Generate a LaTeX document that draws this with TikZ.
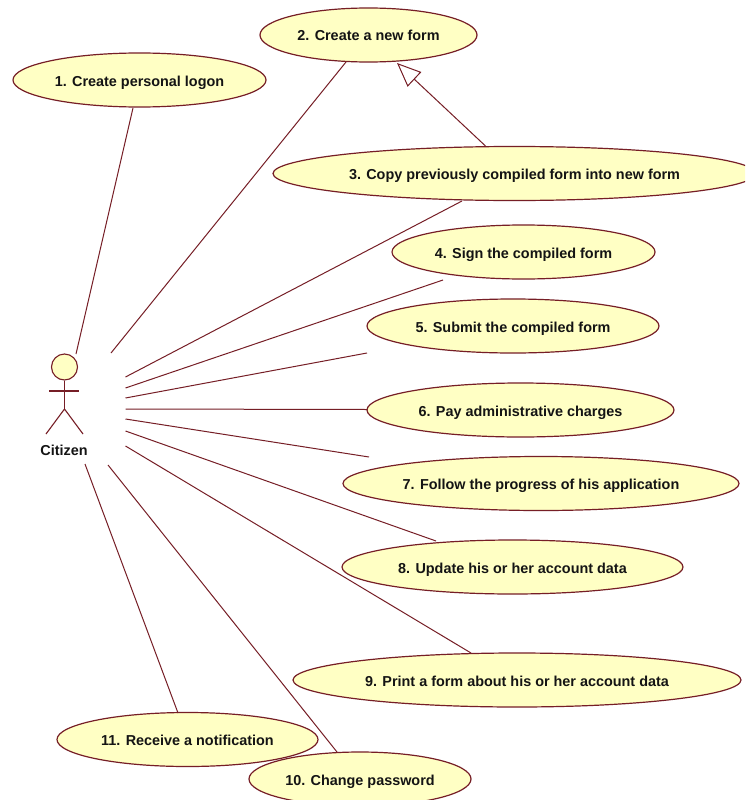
\documentclass[tikz,border=0pt]{standalone}
\usepackage{fontspec}
\setmainfont{Liberation Sans}
\usetikzlibrary{shapes.geometric,arrows.meta}
\definecolor{umlline}{HTML}{761E26}
\definecolor{umlfill}{HTML}{FFFFC4}
\definecolor{umltext}{HTML}{141414}
\tikzset{
  labelfont/.style={font=\bfseries\fontsize{14.4}{16}\selectfont,text=umltext,text height=14pt,text depth=2pt},
  usecase/.style={ellipse,draw=umlline,fill=umlfill,line width=1.2pt,inner sep=0pt,minimum height=54pt,labelfont},
  assoc/.style={draw=umlline,line width=1pt},
  actorline/.style={draw=umlline,line width=1.1pt},
  gen/.style={draw=umlline,line width=1pt,-{Triangle[open,length=24pt,width=20pt,line width=1pt]}}
}
\begin{document}
\begin{tikzpicture}[x=1pt,y=-1pt]
\useasboundingbox (0,0) rectangle (745,800);
\clip (0,0) rectangle (745,800);
\fill[white] (0,0) rectangle (745,800);
\node[usecase,minimum width=253pt] (u1) at (139.5,80) {1. Create personal logon};
\node[usecase,minimum width=217pt] (u2) at (368.5,35) {2. Create a new form};
\node[usecase,minimum width=483pt] (u3) at (514.5,173.5) {3. Copy previously compiled form into new form};
\node[usecase,minimum width=263pt] (u4) at (523.5,252) {4. Sign the compiled form};
\node[usecase,minimum width=292pt] (u5) at (513,326) {5. Submit the compiled form};
\node[usecase,minimum width=307pt] (u6) at (520.5,410) {6. Pay administrative charges};
\node[usecase,minimum width=396pt] (u7) at (541,483.5) {7. Follow the progress of his application};
\node[usecase,minimum width=341pt] (u8) at (512.5,567) {8. Update his or her account data};
\node[usecase,minimum width=448pt] (u9) at (517,680) {9. Print a form about his or her account data};
\node[usecase,minimum width=261pt] (u11) at (187.5,739.5) {11. Receive a notification};
\node[usecase,minimum width=222pt] (u10) at (360,779) {10. Change password};
% actor
\node[circle,draw=umlline,fill=umlfill,line width=1.1pt,minimum size=26pt,inner sep=0pt] (head) at (64.5,367) {};
\coordinate (hip) at (64.5,409);
\coordinate (armL) at (49,391);
\coordinate (armR) at (79,391);
\coordinate (footL) at (46,434);
\coordinate (footR) at (83,434);
\draw[actorline] (head.south) -- (hip);
\draw[actorline] (armL) -- (armR);
\draw[actorline] (footL) -- (hip) -- (footR);
\node[labelfont,inner sep=0pt] (citizen) at (64,449) {Citizen};
% free ends near the actor
\coordinate (a1) at (76,354);
\coordinate (a2) at (111,353);
\coordinate (a3) at (125.5,377);
\coordinate (a4) at (125.5,388);
\coordinate (a5) at (125.5,398);
\coordinate (a6) at (125.5,409);
\coordinate (a7) at (125.5,419);
\coordinate (a8) at (125.5,431);
\coordinate (a9) at (125.5,446);
\coordinate (a10) at (108,465);
\coordinate (a11) at (85,464);
% free ends near the use cases
\coordinate (e1) at (133,108);
\coordinate (e2) at (346,62);
\coordinate (e3) at (462,201);
\coordinate (e4) at (443,280);
\coordinate (e5) at (367,353);
\coordinate (e6) at (367,409.5);
\coordinate (e7) at (369,457);
\coordinate (e8) at (436,541);
\coordinate (e9) at (471,653);
\coordinate (e10) at (337,752);
\coordinate (e11) at (178,713);
\foreach \i in {1,...,11} {\draw[assoc] (a\i) -- (e\i);}
\coordinate (genS) at (485.5,146);
\coordinate (genT) at (397,63);
\draw[gen] (genS) -- (genT);
\end{tikzpicture}
\end{document}
